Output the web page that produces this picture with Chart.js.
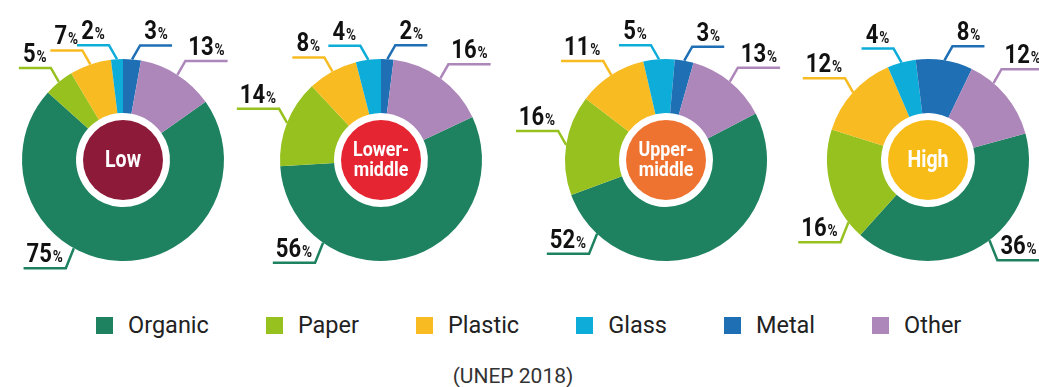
<!DOCTYPE html>
<html>
<head>
<meta charset="utf-8">
<script src="https://cdn.jsdelivr.net/npm/chart.js@4.4.1/dist/chart.umd.min.js"></script>
<style>
  body { margin: 0; width: 1039px; height: 387px; background: #fff; position: relative; overflow: hidden; font-family: Roboto, sans-serif; }
  .pie { position: absolute; top: 0; }
  #legend { position: absolute; top: 311px; left: 96px; display: flex; align-items: center; }
  .item { display: flex; align-items: center; margin-right: 57px; font-size: 23.5px; color: #222; }
  .box { width: 17px; height: 17px; margin-right: 15px; }
  #source { position: absolute; top: 364px; left: 0; width: 1026px; text-align: center; font-size: 21px; color: #333; }
</style>
</head>
<body>
<canvas id="pie0" class="pie" width="300" height="290"></canvas>
<canvas id="pie1" class="pie" width="300" height="290"></canvas>
<canvas id="pie2" class="pie" width="300" height="290"></canvas>
<canvas id="pie3" class="pie" width="300" height="290"></canvas>
<div id="legend"></div>
<div id="source">(UNEP 2018)</div>
<script>
// waste composition (%) by income group
const materials = ["Organic", "Paper", "Plastic", "Glass", "Metal", "Other"];
const materialColors = ["#1e8260", "#97c11f", "#f8bb22", "#0eadd9", "#1f6fb5", "#ad86ba"];
const incomeGroups = ["Low", "Lower-middle", "Upper-middle", "High"];
const groupColors = ["#8e1a3a", "#e52532", "#ee7330", "#f8bc18"];
const low = [75, 5, 7, 2, 3, 13];
const lowerMiddle = [56, 14, 8, 4, 2, 16];
const upperMiddle = [52, 16, 11, 5, 3, 13];
const high = [36, 16, 12, 4, 8, 12];
const groupValues = [low, lowerMiddle, upperMiddle, high];

// where each pie sits, where the glass/metal split points (deg from top),
// and how far along each slice the callout line leaves it
const layouts = [
    { cx: 123, metalAt: 0, leaderAt: [0.6, 0.5, 0.5, 0.5, 0.5, 0.5] },
    { cx: 381, metalAt: 0, leaderAt: [0.745, 0.5, 0.5, 0.5, 0.5, 0.5] },
    { cx: 666, metalAt: 5, leaderAt: [0.857, 0.5, 0.5, 0.5, 0.5, 0.5] },
    { cx: 928, metalAt: -7, leaderAt: [0.46, 0.15, 0.5, 0.5, 0.5, 0.3] },
];

const SQUEEZE = 0.85; // fake a condensed face

function pctWidth(ctx, v) {
    ctx.font = "bold 26px Roboto";
    let w1 = ctx.measureText(String(v)).width;
    ctx.font = "bold 16px Roboto";
    let w2 = ctx.measureText("%").width;
    return (w1 + 1 + w2) * SQUEEZE;
}

function drawPct(ctx, v, x, y) {
    ctx.save();
    ctx.translate(x, y);
    ctx.scale(SQUEEZE, 1);
    ctx.fillStyle = "#111";
    ctx.textAlign = "left";
    ctx.textBaseline = "alphabetic";
    ctx.font = "bold 26px Roboto";
    ctx.fillText(String(v), 0, 0);
    let w1 = ctx.measureText(String(v)).width;
    ctx.font = "bold 16px Roboto";
    ctx.fillText("%", w1 + 1, 0);
    ctx.restore();
}

const callouts = {
    id: "callouts",
    afterDatasetsDraw(chart, args, opts) {
        const ctx = chart.ctx;
        const ds = chart.data.datasets[0];
        const arcs = chart.getDatasetMeta(0).data;
        let cx, cy;
        arcs.forEach((arc, i) => {
            const p = arc.getProps(["x", "y", "startAngle", "endAngle", "outerRadius"], true);
            cx = p.x; cy = p.y;
            const a = p.startAngle + opts.leaderAt[i] * (p.endAngle - p.startAngle);
            const ax = p.x + p.outerRadius * Math.cos(a);
            const ay = p.y + p.outerRadius * Math.sin(a);
            const sx = Math.cos(a) >= 0 ? 1 : -1;
            const sy = Math.sin(a) >= 0 ? 1 : -1;
            const ex = ax + sx * 8;
            const ey = ay + (sy > 0 ? 20 : -14);
            const w = pctWidth(ctx, ds.data[i]);
            const len = Math.max(32, w + 6);
            const hx = ex + sx * len;
            ctx.save();
            ctx.strokeStyle = ds.backgroundColor[i];
            ctx.lineWidth = 2.5;
            ctx.beginPath();
            ctx.moveTo(ax, ay);
            ctx.lineTo(ex, ey);
            ctx.lineTo(hx, ey);
            ctx.stroke();
            ctx.restore();
            drawPct(ctx, ds.data[i], (ex + hx) / 2 - w / 2, ey - 6);
        });

        // coloured disc in the hole with the group name
        ctx.save();
        ctx.fillStyle = opts.discColor;
        ctx.beginPath();
        ctx.arc(cx, cy, 40, 0, Math.PI * 2);
        ctx.fill();
        ctx.fillStyle = "#fff";
        ctx.textAlign = "center";
        ctx.textBaseline = "middle";
        let lines = opts.name.includes("-") ? [opts.name.split("-")[0] + "-", opts.name.split("-")[1]] : [opts.name];
        ctx.font = lines.length > 1 ? "bold 21px Roboto" : "bold 23px Roboto";
        lines.forEach((t, k) => {
            let ty = cy + (k - (lines.length - 1) / 2) * 20;
            ctx.save();
            ctx.translate(cx, ty);
            ctx.scale(SQUEEZE, 1);
            ctx.fillText(t, 0, 1);
            ctx.restore();
        });
        ctx.restore();
    },
};

groupValues.forEach((vals, g) => {
    const lay = layouts[g];
    const canvas = document.getElementById("pie" + g);
    canvas.style.left = (lay.cx - 150) + "px";
    const total = vals.reduce((s, v) => s + v, 0);
    const beforeMetal = vals[0] + vals[1] + vals[2] + vals[3];
    new Chart(canvas, {
        type: "doughnut",
        data: {
            labels: materials,
            datasets: [{
                data: vals,
                backgroundColor: materialColors,
                borderWidth: 0,
            }],
        },
        options: {
            responsive: false,
            animation: false,
            cutout: "46.5%",
            rotation: lay.metalAt - 360 * beforeMetal / total,
            layout: { padding: { top: 59, left: 49, right: 49, bottom: 29 } },
            plugins: {
                legend: { display: false },
                tooltip: { enabled: false },
                callouts: { leaderAt: lay.leaderAt, discColor: groupColors[g], name: incomeGroups[g] },
            },
        },
        plugins: [callouts],
    });
});

// legend row
const legend = document.getElementById("legend");
materials.forEach((m, i) => {
    let item = document.createElement("div");
    item.className = "item";
    item.innerHTML = '<span class="box" style="background:' + materialColors[i] + '"></span>' + m;
    legend.appendChild(item);
});
</script>
</body>
</html>
